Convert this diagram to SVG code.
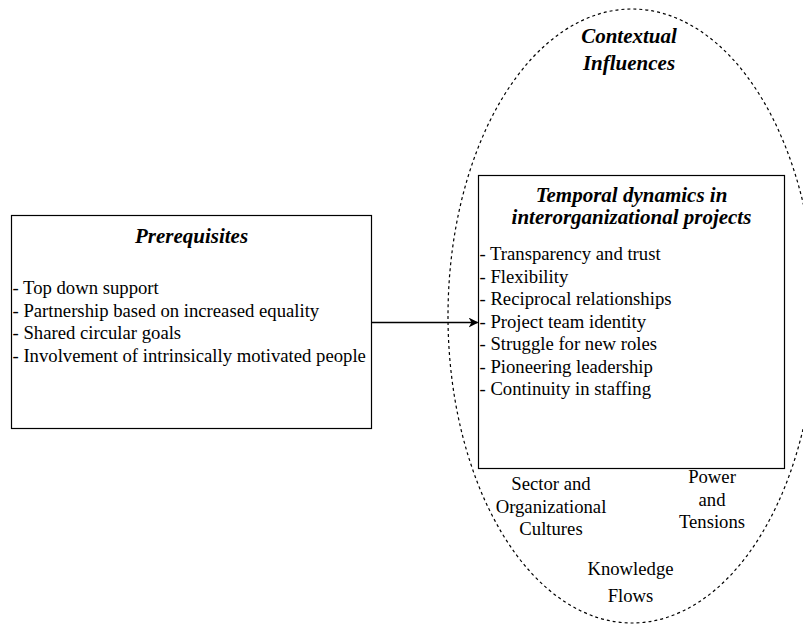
<svg xmlns="http://www.w3.org/2000/svg" width="803" height="624" viewBox="0 0 803 624">
<defs>
<style>
.box{fill:#fff;stroke:#000;stroke-width:1.2}
.ctx{fill:none;stroke:#000;stroke-width:1.2;stroke-dasharray:3 3}
.t{font-family:"Liberation Serif","Times New Roman",serif;font-size:18.7px;fill:#000}
.h{font-family:"Liberation Serif","Times New Roman",serif;font-size:21px;font-weight:bold;font-style:italic;fill:#000}
.c{text-anchor:middle}
.edge{fill:none;stroke:#000;stroke-width:1.3}
</style>
<marker id="arr" markerWidth="10" markerHeight="10" refX="9" refY="5" orient="auto" markerUnits="userSpaceOnUse">
<path d="M0,0 L10,5 L0,10 L3,5 Z" fill="#000"/>
</marker>
</defs>
<rect width="803" height="624" fill="#fff"/>
<g id="context">
<ellipse class="ctx" cx="632" cy="316" rx="184" ry="307"/>
<text class="h c" x="629" y="43">Contextual</text>
<text class="h c" x="629" y="70">Influences</text>
<text class="t c" x="551" y="490">Sector and</text>
<text class="t c" x="551" y="512.7">Organizational</text>
<text class="t c" x="551" y="535">Cultures</text>
<text class="t c" x="712" y="483.3">Power</text>
<text class="t c" x="712" y="506">and</text>
<text class="t c" x="712" y="528.3">Tensions</text>
<text class="t c" x="630.5" y="575">Knowledge</text>
<text class="t c" x="630.5" y="601.7">Flows</text>
</g>
<g id="prerequisites">
<rect class="box" x="11.5" y="215.5" width="360" height="213"/>
<text class="h c" x="191.5" y="242.7">Prerequisites</text>
<text class="t" x="12.5" y="294">- Top down support</text>
<text class="t" x="12.5" y="316.5">- Partnership based on increased equality</text>
<text class="t" x="12.5" y="339">- Shared circular goals</text>
<text class="t" x="12.5" y="361.5">- Involvement of intrinsically motivated people</text>
</g>
<g id="temporal">
<rect class="box" x="478.5" y="175.5" width="306" height="293"/>
<text class="h c" x="631.5" y="201.7">Temporal dynamics in</text>
<text class="h c" x="631.5" y="223.5">interorganizational projects</text>
<text class="t" x="479.5" y="260">- Transparency and trust</text>
<text class="t" x="479.5" y="282.5">- Flexibility</text>
<text class="t" x="479.5" y="305">- Reciprocal relationships</text>
<text class="t" x="479.5" y="327.5">- Project team identity</text>
<text class="t" x="479.5" y="350">- Struggle for new roles</text>
<text class="t" x="479.5" y="372.5">- Pioneering leadership</text>
<text class="t" x="479.5" y="395">- Continuity in staffing</text>
</g>
<g id="connectors">
<path class="edge" d="M372,322.5 L477.5,322.5" marker-end="url(#arr)"/>
</g>
</svg>
